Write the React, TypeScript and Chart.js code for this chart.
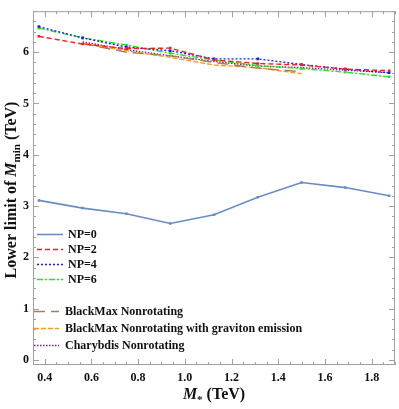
import { useEffect, useRef } from 'react';
import { Chart, registerables } from 'chart.js';
Chart.register(...registerables);

const xValues = [0.375, 0.5625, 0.75, 0.9375, 1.125, 1.3125, 1.5, 1.6875, 1.875];
const np0 = [3.11, 2.96, 2.85, 2.66, 2.83, 3.17, 3.46, 3.36, 3.2];
const np2 = [6.31, 6.16, 6.07, 6.08, 5.85, 5.78, 5.75, 5.67, 5.64];
const np4 = [6.5, 6.28, 6.1, 6.03, 5.87, 5.87, 5.76, 5.67, 5.6];
const np6 = [6.47, 6.28, 6.14, 5.98, 5.85, 5.74, 5.68, 5.61, 5.52];
const bmNonrot = [null, 6.17, 6.0, 5.93, 5.8, 5.69, 5.62, null, null];
const bmGrav = [null, 6.17, 6.03, 5.9, 5.75, 5.7, 5.58, null, null];
const charybdis = [null, 6.2, 6.05, 5.93, 5.82, 5.73, 5.7, 5.65, 5.6];

const xTicks = [0.4, 0.6, 0.8, 1.0, 1.2, 1.4, 1.6, 1.8];
const yTicks = [0, 1, 2, 3, 4, 5, 6];

const SERIF = '"Liberation Serif", "Times New Roman", serif';

function pts(arr: (number | null)[]) {
  const out: { x: number; y: number }[] = [];
  arr.forEach((v, i) => {
    if (v !== null) out.push({ x: xValues[i], y: v });
  });
  return out;
}

const framePlugin = {
  id: 'frameAndTitles',
  afterDraw(chart: any) {
    const ctx = chart.ctx;
    const { left, right, top, bottom } = chart.chartArea;
    const xs = chart.scales.x;
    const ys = chart.scales.y;
    ctx.save();
    // frame
    ctx.strokeStyle = '#a0a0a0';
    ctx.lineWidth = 1;
    ctx.strokeRect(left + 0.5, top + 0.5, right - left - 1, bottom - top - 1);
    // ticks
    ctx.beginPath();
    for (let v = 0.35; v <= 1.9001; v += 0.05) {
      const major = xTicks.some((t) => Math.abs(t - v) < 1e-6);
      const len = major ? 6 : 3;
      const px = Math.round(xs.getPixelForValue(v)) + 0.5;
      ctx.moveTo(px, bottom);
      ctx.lineTo(px, bottom - len);
      ctx.moveTo(px, top);
      ctx.lineTo(px, top + len);
    }
    for (let v = 0; v <= 6.8001; v += 0.2) {
      const major = yTicks.some((t) => Math.abs(t - v) < 1e-6);
      const len = major ? 6 : 3;
      const py = Math.round(ys.getPixelForValue(v)) + 0.5;
      ctx.moveTo(left, py);
      ctx.lineTo(left + len, py);
      ctx.moveTo(right, py);
      ctx.lineTo(right - len, py);
    }
    ctx.stroke();

    ctx.fillStyle = '#111';
    ctx.textBaseline = 'alphabetic';
    ctx.textAlign = 'left';
    const fMain = `bold 16px ${SERIF}`;
    const fItal = `italic bold 16px ${SERIF}`;
    const fSub = `bold 11px ${SERIF}`;
    // x title
    {
      ctx.font = fItal;
      const wM = ctx.measureText('M').width;
      ctx.font = fSub;
      const wS = ctx.measureText('*').width;
      ctx.font = fMain;
      const wT = ctx.measureText(' (TeV)').width;
      const total = wM + wS + wT;
      let x = 214 - total / 2;
      const y = 399;
      ctx.font = fItal;
      ctx.fillText('M', x, y);
      x += wM;
      ctx.font = fSub;
      ctx.fillText('*', x, y + 4);
      x += wS;
      ctx.font = fMain;
      ctx.fillText(' (TeV)', x, y);
    }
    // y title
    {
      ctx.save();
      ctx.translate(16, 190);
      ctx.rotate(-Math.PI / 2);
      const parts: [string, string, number][] = [
        ['Lower limit of ', fMain, 0],
        ['M', fItal, 0],
        ['min', fSub, 4],
        [' (TeV)', fMain, 0],
      ];
      let total = 0;
      parts.forEach(([t, f]) => {
        ctx.font = f;
        total += ctx.measureText(t).width;
      });
      let x = -total / 2;
      parts.forEach(([t, f, dy]) => {
        ctx.font = f;
        ctx.fillText(t, x, dy);
        x += ctx.measureText(t).width;
      });
      ctx.restore();
    }

    // legend
    const rows: { idx: number; y: number; x0: number; x1: number; tx: number }[] = [
      { idx: 0, y: 234, x0: 37, x1: 63, tx: 68 },
      { idx: 1, y: 249, x0: 37, x1: 63, tx: 68 },
      { idx: 2, y: 264, x0: 37, x1: 63, tx: 68 },
      { idx: 3, y: 279, x0: 37, x1: 63, tx: 68 },
      { idx: 4, y: 311, x0: 34, x1: 59, tx: 65 },
      { idx: 5, y: 328, x0: 34, x1: 59, tx: 65 },
      { idx: 6, y: 345, x0: 34, x1: 59, tx: 65 },
    ];
    ctx.font = `bold 12px ${SERIF}`;
    ctx.textBaseline = 'middle';
    rows.forEach((r) => {
      const ds = chart.data.datasets[r.idx];
      ctx.save();
      ctx.strokeStyle = ds.borderColor;
      ctx.lineWidth = ds.borderWidth;
      ctx.setLineDash(ds.borderDash || []);
      ctx.beginPath();
      ctx.moveTo(r.x0, r.y + 0.5);
      ctx.lineTo(r.x1, r.y + 0.5);
      ctx.stroke();
      ctx.restore();
      ctx.fillStyle = '#111';
      ctx.fillText(ds.label, r.tx, r.y + 1);
    });
    ctx.restore();
  },
};

export default function App() {
  const ref = useRef<HTMLCanvasElement | null>(null);
  useEffect(() => {
    document.body.style.margin = '0';
    const canvas = ref.current!;
    const mk = (label: string, arr: (number | null)[], color: string, dash: number[], marker: boolean, width = 1.4) => ({
      label,
      data: pts(arr),
      borderColor: color,
      backgroundColor: color,
      borderWidth: width,
      borderDash: dash,
      pointStyle: 'rect',
      pointRadius: marker ? 1.8 : 0,
      pointBorderWidth: 0,
      tension: 0,
      fill: false,
    });
    const chart = new Chart(canvas, {
      type: 'line',
      data: {
        datasets: [
          mk('NP=0', np0, '#6a8cc4', [], true, 1.6),
          mk('NP=2', np2, '#ff1a1a', [5, 3], true),
          mk('NP=4', np4, '#1a1aff', [2, 2], true),
          mk('NP=6', np6, '#22e622', [6, 2, 2, 2], true),
          mk('BlackMax Nonrotating', bmNonrot, '#a87d5f', [11, 6], false),
          mk('BlackMax Nonrotating with graviton emission', bmGrav, '#ff9a1a', [5, 2], false),
          mk('Charybdis Nonrotating', charybdis, '#8a1a9a', [1.5, 1.5], false),
        ] as any,
      },
      options: {
        animation: false,
        responsive: false,
        maintainAspectRatio: false,
        layout: { padding: { top: 1, right: 3, left: 0, bottom: 0 } },
        plugins: { legend: { display: false }, tooltip: { enabled: false } },
        scales: {
          x: {
            type: 'linear',
            min: 0.35,
            max: 1.9,
            grid: { display: false, drawTicks: false, tickLength: 0 },
            border: { display: false },
            afterBuildTicks: (s: any) => {
              s.ticks = xTicks.map((v) => ({ value: v }));
            },
            afterFit: (s: any) => {
              s.height = 44;
            },
            ticks: {
              padding: 6,
              maxRotation: 0,
              color: '#111',
              font: { family: SERIF, size: 12, weight: 'bold' },
              callback: (v: any) => Number(v).toFixed(1),
            },
          },
          y: {
            type: 'linear',
            min: -0.1,
            max: 6.8,
            grid: { display: false, drawTicks: false, tickLength: 0 },
            border: { display: false },
            afterBuildTicks: (s: any) => {
              s.ticks = yTicks.map((v) => ({ value: v }));
            },
            afterFit: (s: any) => {
              s.width = 33;
            },
            ticks: {
              padding: 4,
              color: '#111',
              font: { family: SERIF, size: 12, weight: 'bold' },
              callback: (v: any) => String(v),
            },
          },
        },
      } as any,
      plugins: [framePlugin],
    });
    return () => chart.destroy();
  }, []);
  return <canvas ref={ref} width={399} height={409} style={{ display: 'block' }} />;
}
